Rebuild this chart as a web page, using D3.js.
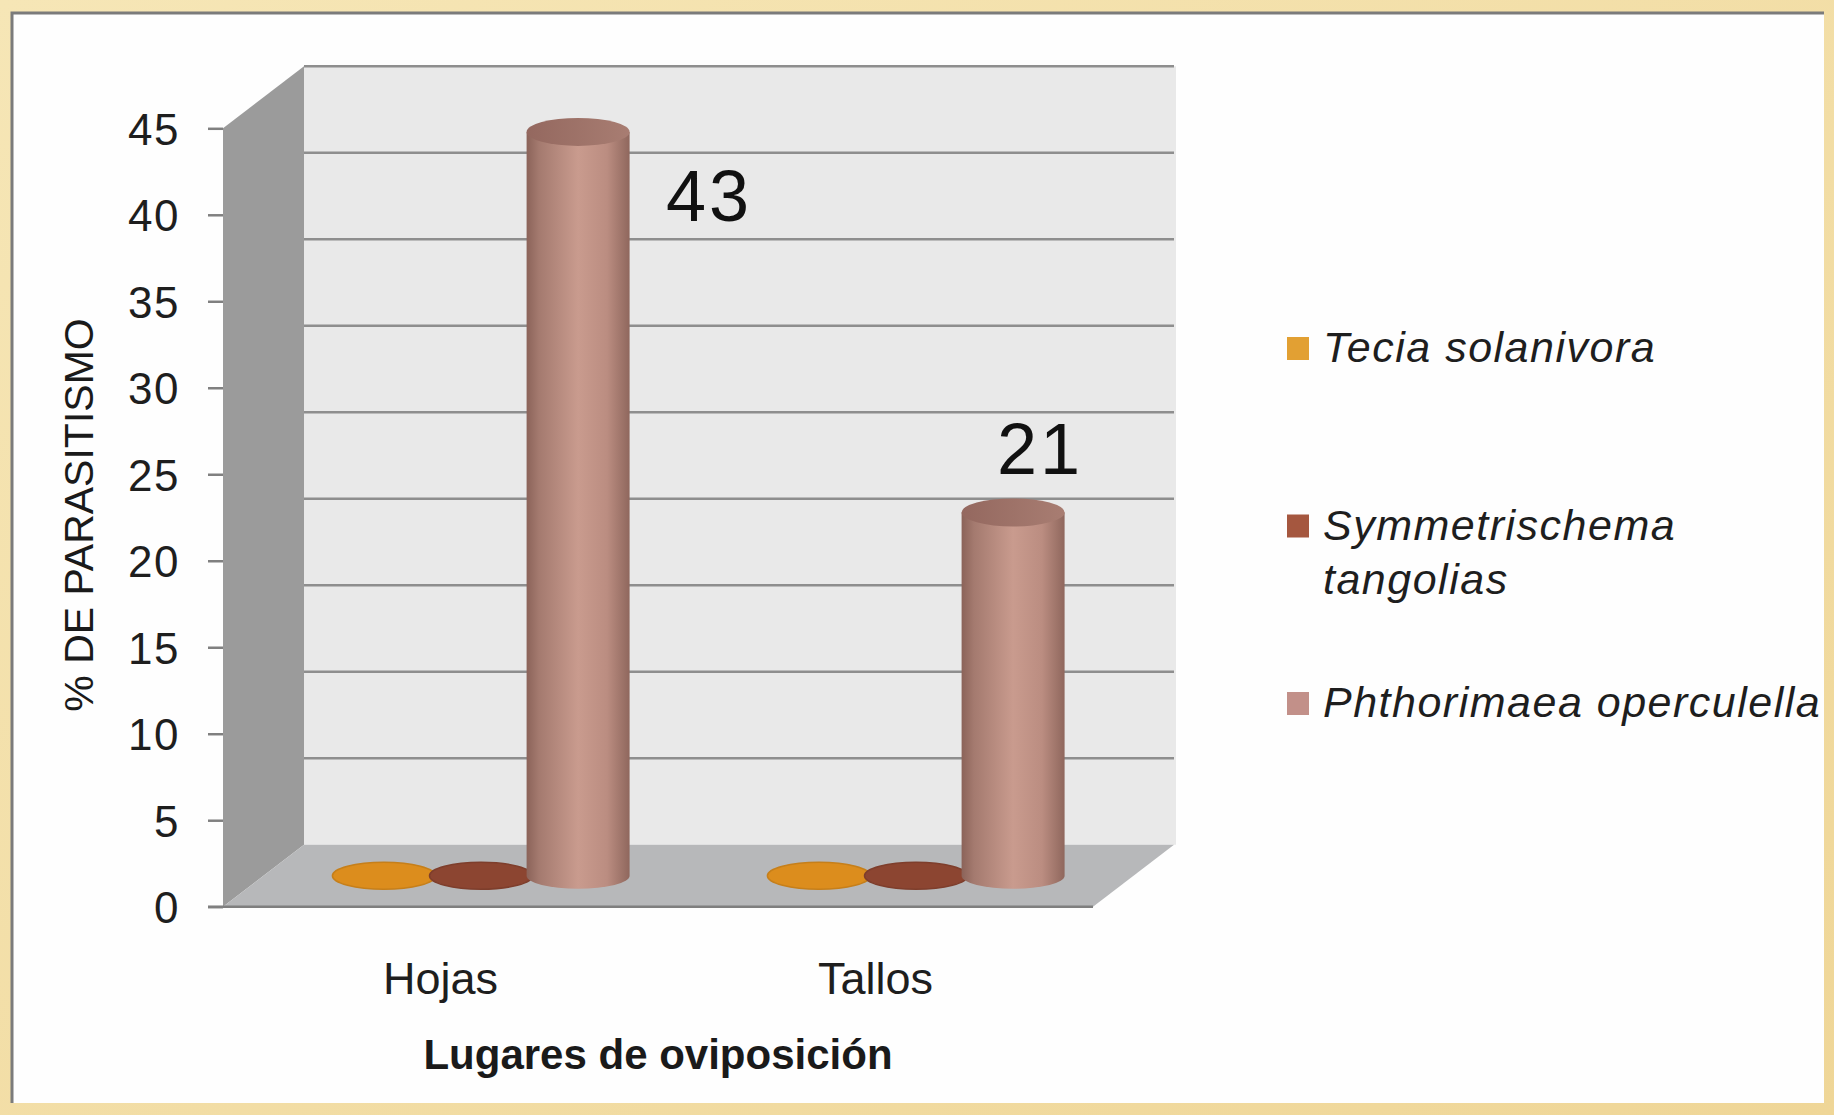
<!DOCTYPE html>
<html lang="es">
<head>
<meta charset="utf-8">
<title>% de parasitismo por lugar de oviposición</title>
<script src="https://d3js.org/d3.v7.min.js"></script>
<style>
  html, body { margin: 0; padding: 0; background: #f3dfa4; }
  svg { display: block; font-family: "Liberation Sans", Arial, sans-serif; }
  .ylab text { font-size: 44px; letter-spacing: 1.5px; fill: #1e1e1e; }
  .xlab text { font-size: 45px; fill: #1e1e1e; }
  .legend text { font-size: 43px; font-style: italic; letter-spacing: 1.5px; fill: #1e1e1e; }
</style>
</head>
<body>
<div id="chart"></div>
<script>
  // data
  var categories = ["Hojas", "Tallos"];
  var seriesNames = ["Tecia solanivora", "Symmetrischema tangolias", "Phthorimaea operculella"];
  var tecia = [0, 0];
  var symmetrischema = [0, 0];
  var phthorimaea = [43, 21];
  var yTicks = [0, 5, 10, 15, 20, 25, 30, 35, 40, 45];
  var legendLines = [["Tecia solanivora"], ["Symmetrischema", "tangolias"], ["Phthorimaea operculella"]];
  var labelOffsets = [[131, 89], [27, -38]]; // where the value labels were dragged to

  var series = [tecia, symmetrischema, phthorimaea];
  var colors = ["#dc8d1d", "#8c4531", "#c4968a"];
  var legendColors = ["#e2a033", "#a5573f", "#c29089"];

  var W = 1834, H = 1115;
  var front = { left: 223, right: 1093, bottom: 906.7, top: 128.3 };
  var depth = { dx: 81, dy: -62 };

  var svg = d3.select('#chart').append('svg')
    .attr('width', W).attr('height', H);

  var defs = svg.append('defs');
  var bg = defs.append('linearGradient').attr('id', 'parch')
    .attr('x1', 0).attr('y1', 0).attr('x2', 1).attr('y2', 1);
  bg.append('stop').attr('offset', 0).attr('stop-color', '#f6e6b6');
  bg.append('stop').attr('offset', 1).attr('stop-color', '#efd697');

  var cyl = defs.append('linearGradient').attr('id', 'cyl')
    .attr('x1', 0).attr('y1', 0).attr('x2', 1).attr('y2', 0);
  [[0, '#8b6359'], [0.12, '#a47a6f'], [0.5, '#c99b8e'], [0.78, '#bb8d81'], [1, '#8f675d']]
    .forEach(s => cyl.append('stop').attr('offset', s[0]).attr('stop-color', s[1]));

  var topGrad = defs.append('linearGradient').attr('id', 'cyltop')
    .attr('x1', 0).attr('y1', 0).attr('x2', 1).attr('y2', 0);
  topGrad.append('stop').attr('offset', 0).attr('stop-color', '#94685f');
  topGrad.append('stop').attr('offset', 1).attr('stop-color', '#a87d72');

  // page background and white panel
  svg.append('rect').attr('width', W).attr('height', H).attr('fill', 'url(#parch)');
  svg.append('rect').attr('x', 12).attr('y', 13).attr('width', 1812).attr('height', 1090).attr('fill', '#fefefe');
  svg.append('path').attr('d', 'M12,1103 V13 H1824')
    .attr('fill', 'none').attr('stroke', '#7b7b7b').attr('stroke-width', 3);

  var y = d3.scaleLinear().domain([0, 45]).range([front.bottom, front.top]);
  var x = d3.scaleBand().domain(categories).range([front.left, front.right]);
  var xs = d3.scaleBand().domain(d3.range(seriesNames.length))
    .range([0, x.bandwidth()]).paddingOuter(0.74).paddingInner(0);

  var g = svg.append('g');
  var b0 = y(0), b45 = y(45);

  // walls
  g.append('path')
    .attr('d', 'M' + (front.left + depth.dx) + ',' + (b45 + depth.dy) + 'H' + (front.right + depth.dx + 2) +
      'V' + (b0 + depth.dy) + 'H' + (front.left + depth.dx) + 'Z')
    .attr('fill', '#e9e9e9');
  g.append('path')
    .attr('d', 'M' + front.left + ',' + b45 + 'L' + (front.left + depth.dx) + ',' + (b45 + depth.dy) +
      'V' + (b0 + depth.dy) + 'L' + front.left + ',' + b0 + 'Z')
    .attr('fill', '#9b9b9b');

  // gridlines on the back wall
  g.selectAll('.grid').data(yTicks.filter(d => d > 0)).enter().append('line')
    .attr('x1', front.left + depth.dx).attr('x2', front.right + depth.dx)
    .attr('y1', d => y(d) + depth.dy).attr('y2', d => y(d) + depth.dy)
    .attr('stroke', '#8e8e8e').attr('stroke-width', 2.5);

  // floor
  g.append('path')
    .attr('d', 'M' + front.left + ',' + b0 + 'H' + front.right + 'L' + (front.right + depth.dx) + ',' + (b0 + depth.dy) +
      'H' + (front.left + depth.dx) + 'Z')
    .attr('fill', '#b7b8ba');

  // bars at mid depth
  var rx = 51.5, ry = 13;
  var mdx = depth.dx / 2, mdy = depth.dy / 2;
  var bars = [];
  categories.forEach(function (c, ci) {
    series.forEach(function (s, si) {
      bars.push({ cat: c, ci: ci, si: si, v: s[ci] });
    });
  });

  var barG = g.selectAll('.bar').data(bars).enter().append('g');
  barG.each(function (d) {
    var sel = d3.select(this);
    var cx = x(d.cat) + xs(d.si) + xs.bandwidth() / 2 + mdx;
    var base = y(0) + mdy, top = y(d.v) + mdy;
    if (d.v > 0) {
      sel.append('path')
        .attr('d', 'M' + (cx - rx) + ',' + top + 'V' + base +
          'A' + rx + ',' + ry + ' 0 0 0 ' + (cx + rx) + ',' + base + 'V' + top + 'Z')
        .attr('fill', 'url(#cyl)');
      sel.append('ellipse').attr('cx', cx).attr('cy', top).attr('rx', rx).attr('ry', ry + 1)
        .attr('fill', 'url(#cyltop)');
    } else {
      sel.append('ellipse').attr('cx', cx).attr('cy', base).attr('rx', rx).attr('ry', ry + 0.5)
        .attr('fill', colors[d.si]).attr('stroke', d3.color(colors[d.si]).darker(0.3)).attr('stroke-width', 1.5);
    }
  });

  // value labels
  g.selectAll('.vlab').data(phthorimaea).enter().append('text')
    .attr('x', (d, i) => x(categories[i]) + xs(2) + xs.bandwidth() / 2 + mdx + labelOffsets[i][0])
    .attr('y', (d, i) => y(d) + mdy + labelOffsets[i][1])
    .attr('text-anchor', 'middle')
    .style('font-size', '72px').style('letter-spacing', '3px').style('fill', '#111')
    .text(d => d);

  // front floor edge
  g.append('line').attr('x1', 208).attr('x2', front.right).attr('y1', b0).attr('y2', b0)
    .attr('stroke', '#7f7f7f').attr('stroke-width', 2.5);

  // y axis
  var yAxis = svg.append('g').attr('class', 'ylab')
    .attr('transform', 'translate(' + front.left + ',0)')
    .call(d3.axisLeft(y).tickValues(yTicks).tickSize(15).tickPadding(28));
  yAxis.select('.domain').remove();
  yAxis.selectAll('line').attr('stroke', '#808080').attr('stroke-width', 2.5);
  yAxis.selectAll('text').attr('dy', '0.36em').style('font-family', null);

  // x axis
  var xAxis = svg.append('g').attr('class', 'xlab')
    .attr('transform', 'translate(0,' + b0 + ')')
    .call(d3.axisBottom(x).tickSize(0).tickPadding(55));
  xAxis.select('.domain').remove();
  xAxis.selectAll('text').style('font-family', null);

  // axis titles
  svg.append('text')
    .attr('x', (front.left + front.right) / 2).attr('y', 1069)
    .attr('text-anchor', 'middle')
    .style('font-size', '42px').style('font-weight', 'bold').style('fill', '#1a1a1a')
    .text('Lugares de oviposición');

  svg.append('text')
    .attr('transform', 'translate(93,515) rotate(-90)')
    .attr('text-anchor', 'middle')
    .style('font-size', '41px').style('fill', '#1a1a1a')
    .text('% DE PARASITISMO');

  // legend
  var legend = svg.append('g').attr('class', 'legend');
  var item = legend.selectAll('.item').data(seriesNames).enter().append('g')
    .attr('transform', (d, i) => 'translate(1287,' + (362 + i * 177.5) + ')');
  item.append('rect').attr('x', 0).attr('y', -25).attr('width', 22).attr('height', 23)
    .attr('fill', (d, i) => legendColors[i]);
  item.each(function (d, i) {
    var t = d3.select(this).append('text').attr('x', 36).attr('y', 0);
    legendLines[i].forEach(function (ln, li) {
      t.append('tspan').attr('x', 36).attr('dy', li === 0 ? 0 : 54).text(ln);
    });
  });
</script>
</body>
</html>
